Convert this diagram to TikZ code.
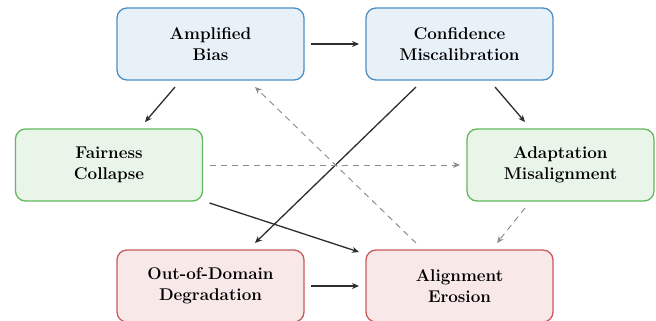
\documentclass[tikz,border=0pt]{standalone}
\usetikzlibrary{arrows.meta}
\definecolor{bblue}{RGB}{74,144,200}
\definecolor{fblue}{RGB}{232,240,248}
\definecolor{bgreen}{RGB}{98,185,92}
\definecolor{fgreen}{RGB}{233,245,232}
\definecolor{bred}{RGB}{200,90,90}
\definecolor{fred}{RGB}{248,232,232}
\definecolor{arr}{RGB}{45,45,45}
\definecolor{darr}{RGB}{140,140,140}
\begin{document}
\begin{tikzpicture}[x=1pt,y=-1pt,
  box/.style={rounded corners=10pt, line width=1.3pt, minimum width=187pt, minimum height=72pt, align=center, font=\fontsize{17}{21}\selectfont\bfseries, text=black, inner sep=0pt, outer sep=7pt},
  bluebox/.style={box, draw=bblue, fill=fblue},
  greenbox/.style={box, draw=bgreen, fill=fgreen},
  redbox/.style={box, draw=bred, fill=fred},
  sarr/.style={-{Stealth[length=7pt,width=6pt]}, line width=1.3pt, draw=arr},
  darrs/.style={-{Stealth[length=7pt,width=6pt]}, line width=1pt, draw=darr, dash pattern=on 6pt off 5pt}]
\useasboundingbox (0,0) rectangle (656,321);
\node[bluebox] (ab) at (210.5,44) {Amplified\\Bias};
\node[bluebox] (cm) at (459.5,44) {Confidence\\Miscalibration};
\node[greenbox] (fc) at (109,165) {Fairness\\Collapse};
\node[greenbox] (am) at (560.5,165) {Adaptation\\Misalignment};
\node[redbox] (od) at (210.5,286) {Out-of-Domain\\Degradation};
\node[redbox] (ae) at (459.5,286) {Alignment\\Erosion};
\draw[sarr] (ab) -- (cm);
\draw[sarr] ([xshift=-35.5pt]ab.south) -- ([xshift=36pt]fc.north);
\draw[sarr] ([xshift=35.5pt]cm.south) -- ([xshift=-35.5pt]am.north);
\draw[sarr] ([xshift=-43.5pt]cm.south) -- ([xshift=44.5pt]od.north);
\draw[sarr] ([yshift=5pt]fc.south east) -- ([yshift=-9pt]ae.north west);
\draw[sarr] (od) -- (ae);
\draw[darrs] (fc) -- (am);
\draw[darrs] ([xshift=-35.5pt]am.south) -- ([xshift=37.5pt]ae.north);
\draw[darrs] ([xshift=-43.5pt]ae.north) -- ([xshift=44.5pt]ab.south);
\end{tikzpicture}
\end{document}
